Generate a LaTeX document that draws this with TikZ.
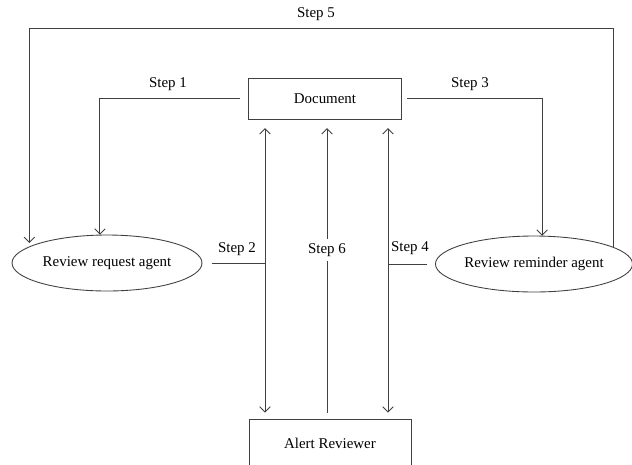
\documentclass[tikz,border=0pt]{standalone}
\usepackage{fontspec}
\setmainfont{Liberation Serif}
\usetikzlibrary{calc, shapes, positioning, arrows.meta}

\begin{document}
\begin{tikzpicture}
[
    x = 0.02cm, y = -0.02cm,
    line width = 0.5pt, color = black!75,
    every node/.style = {font = \fontsize{8.5}{10}\selectfont, text = black, inner sep = 1pt},
    Arrow/.style = {-{Straight Barb[length=3pt, width=6pt]}},
    TwoArrow/.style = {{Straight Barb[length=3pt, width=6pt]}-{Straight Barb[length=3pt, width=6pt]}}
  ]

  \tikzset{BoxStyle/.style   = {draw, rectangle,
                                inner sep      = 0pt,
                                minimum width  = 3.06cm,
                                minimum height = 0.82cm},
           AgentStyle/.style = {draw, ellipse,
                                inner sep      = 0pt,
                                minimum width  = 3.8cm,
                                minimum height = 1.12cm},
           StepStyle/.style  = {text = black}}

  \useasboundingbox (0,0) rectangle (632,464);
  \clip (0,0) rectangle (632,464);

  \node[BoxStyle](doc) at (325,98.5){Document};
  \node[BoxStyle, minimum width = 3.24cm, minimum height = 0.96cm](alert) at (330,443){Alert Reviewer};
  \node[AgentStyle](req) at (107,263){Review request agent};
  \node[AgentStyle](rem) at (534,264){Review reminder agent};

  \coordinate (top) at (0,28);
  \coordinate (j2) at (265,263);
  \coordinate (j6) at (327,263);
  \coordinate (j4) at (388,263);

  % steps 1, 3 and 5
  \draw[Arrow, shorten <= 4.5pt](doc.west) -| (req.104);
  \draw[Arrow, shorten <= 3pt](doc.east) -| (rem.74);
  \draw[Arrow, shorten >= 2pt](rem.12) -- (rem.12 |- top) -| (req.168);

  % steps 2, 6 and 4
  \draw[shorten <= 5.7pt](req.east) -- (req.east -| j2);
  \draw[TwoArrow, shorten <= 5pt, shorten >= 3.4pt](doc.south -| j2) -- (alert.north -| j2);
  \draw[Arrow, shorten <= 3.4pt, shorten >= 5pt](alert.north -| j6) -- (doc.south -| j6)
    node[StepStyle, pos = 0.563, fill = white, inner sep = 2.5pt](s6){Step 6};
  \draw[shorten <= 4.5pt](rem.west) -- (rem.west -| j4);
  \draw[TwoArrow, shorten <= 5pt, shorten >= 3.4pt](doc.south -| j4) -- (alert.north -| j4);

  \node[StepStyle](s1) at (168,84){Step 1};
  \node[StepStyle](s3) at (470,84){Step 3};
  \node[StepStyle](s5) at (316,14){Step 5};
  \node[StepStyle](s2) at (237,249){Step 2};
  \node[StepStyle](s4) at (410,248){Step 4};
\end{tikzpicture}
\end{document}
